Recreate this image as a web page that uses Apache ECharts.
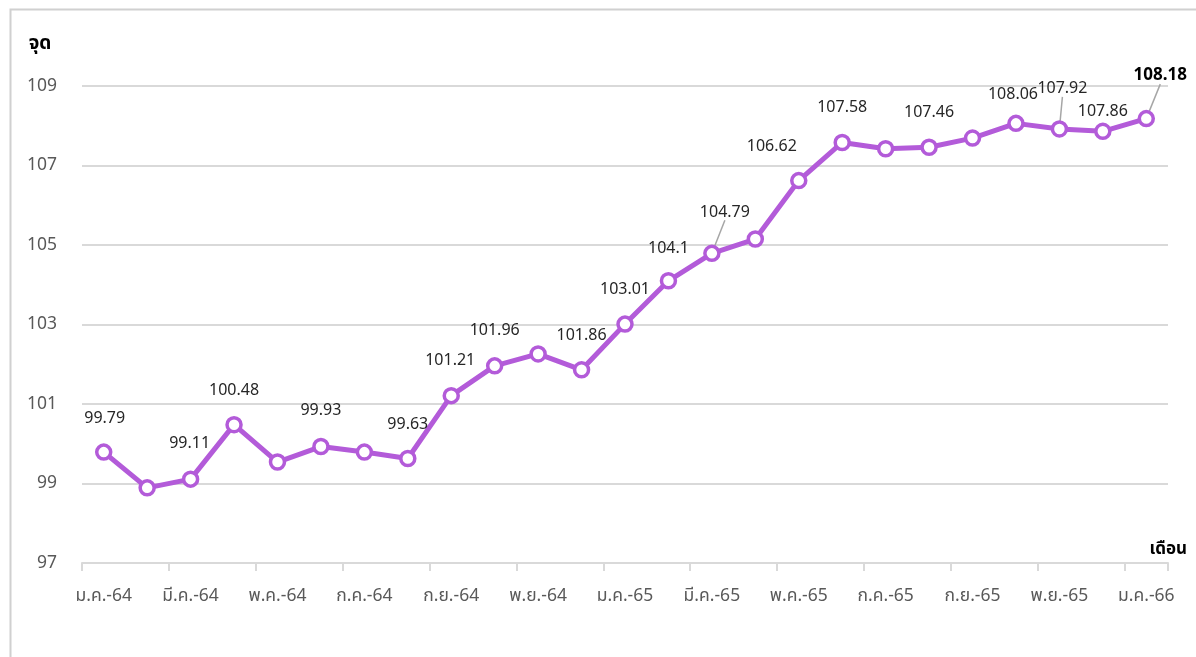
<!DOCTYPE html>
<html>
<head>
<meta charset="utf-8">
<script src="https://cdn.jsdelivr.net/npm/echarts@6/dist/echarts.min.js"></script>
<style>
html,body{margin:0;padding:0;background:#fff;}
#main{width:1196px;height:657px;}
</style>
</head>
<body>
<div id="main"></div>
<script>
// ---- data ----
const months = [
  'ม.ค.-64','ก.พ.-64','มี.ค.-64','เม.ย.-64','พ.ค.-64','มิ.ย.-64','ก.ค.-64','ส.ค.-64','ก.ย.-64','ต.ค.-64','พ.ย.-64','ธ.ค.-64',
  'ม.ค.-65','ก.พ.-65','มี.ค.-65','เม.ย.-65','พ.ค.-65','มิ.ย.-65','ก.ค.-65','ส.ค.-65','ก.ย.-65','ต.ค.-65','พ.ย.-65','ธ.ค.-65',
  'ม.ค.-66'
];
const indexValues = [
  99.79, 98.89, 99.11, 100.48, 99.54, 99.93, 99.79, 99.63, 101.21, 101.96, 102.26, 101.86,
  103.01, 104.10, 104.79, 105.15, 106.62, 107.58, 107.42, 107.46, 107.69, 108.06, 107.92, 107.86,
  108.18
];
// which points carry a value label
const labelledPoints = [0,2,3,5,7,8,9,11,12,13,14,16,17,19,21,22,23,24];
const yTicks = { min: 97, max: 109, step: 2 };
const yAxisTitle = 'จุด';
const xAxisTitle = 'เดือน';

// ---- label placement (style only) ----
const labelShift = {
  0:[1,-34], 2:[-1,-36], 3:[0,-34], 5:[0,-36], 7:[0,-34], 8:[-1,-35], 9:[0,-35], 11:[0,-34],
  12:[0,-35], 13:[0,-32], 14:[13,-41], 16:[-27,-34], 17:[0,-35], 19:[0,-35], 21:[-3,-29],
  22:[3,-40], 23:[0,-20], 24:[14,-43]
};
const leaderPoints = [14, 22, 24];
const lastIndex = indexValues.length - 1;

const FONT = "'Noto Sans', 'Noto Sans Thai', Tahoma, sans-serif";
const PURPLE = '#b35bd9';

const seriesData = indexValues.map((v, i) => {
  const item = { value: v };
  const show = labelledPoints.indexOf(i) >= 0;
  item.label = { show: show };
  if (i === lastIndex) {
    item.label.fontWeight = 'bold';
    item.label.color = '#000';
    item.label.fontSize = 17;
  }
  item.labelLine = { show: leaderPoints.indexOf(i) >= 0 };
  return item;
});

const chart = echarts.init(document.getElementById('main'), null, { renderer: 'canvas' });
chart.setOption({
  animation: false,
  backgroundColor: '#fff',
  textStyle: { fontFamily: FONT },
  graphic: [{
    type: 'rect',
    left: 8, top: 7,
    shape: { width: 1400, height: 800 },
    style: { fill: 'none', stroke: '#d0d0d0', lineWidth: 2 },
    silent: true, z: -10
  }],
  grid: { left: 82, right: 28, top: 86, bottom: 94, containLabel: false },
  xAxis: {
    type: 'category',
    data: months,
    boundaryGap: true,
    name: xAxisTitle,
    nameLocation: 'end',
    nameGap: 19,
    nameTextStyle: { color: '#000', fontWeight: 'bold', fontSize: 17, fontFamily: FONT,
      align: 'right', verticalAlign: 'bottom', padding: [0, 0, 5, 0] },
    axisLine: { show: true, lineStyle: { color: '#d9d9d9', width: 2 } },
    axisTick: { show: true, interval: 1, length: 8, lineStyle: { color: '#d9d9d9', width: 2 } },
    axisLabel: { interval: 1, color: '#595959', fontSize: 17.5, fontFamily: FONT, margin: 24 },
    splitLine: { show: false }
  },
  yAxis: {
    type: 'value',
    min: yTicks.min, max: yTicks.max, interval: yTicks.step,
    name: yAxisTitle,
    nameLocation: 'end',
    nameGap: 33,
    nameTextStyle: { color: '#000', fontWeight: 'bold', fontSize: 19, fontFamily: FONT,
      align: 'center', padding: [0, 0, 0, -84] },
    axisLine: { show: false },
    axisTick: { show: false },
    axisLabel: { color: '#595959', fontSize: 17.5, fontFamily: FONT, margin: 25 },
    splitLine: { show: true, lineStyle: { color: '#d9d9d9', width: 2 } }
  },
  series: [{
    type: 'line',
    data: seriesData,
    symbol: 'circle',
    symbolSize: 14,
    showAllSymbol: true,
    lineStyle: { color: PURPLE, width: 5 },
    itemStyle: { color: '#fff', borderColor: PURPLE, borderWidth: 3.5 },
    label: {
      show: false,
      position: 'inside',
      color: '#262626',
      fontSize: 16,
      fontFamily: FONT
    },
    labelLine: { show: false, lineStyle: { color: '#a6a6a6', width: 1.5 } },
    labelLayout: function (p) {
      const s = labelShift[p.dataIndex];
      if (!s) return {};
      return { dx: s[0], dy: s[1] };
    },
    z: 3
  }]
});
</script>
</body>
</html>
